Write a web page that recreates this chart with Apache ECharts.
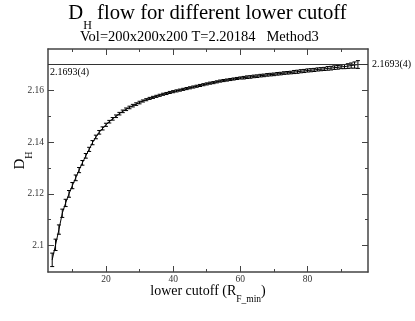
<!DOCTYPE html>
<html><head><meta charset="utf-8">
<script src="https://cdn.jsdelivr.net/npm/echarts@6/dist/echarts.min.js"></script>
<style>html,body{margin:0;padding:0;background:#fff}#c{width:415px;height:321px}</style>
</head><body><div id="c"></div>
<script>
// ---- data ----
const cutoff = [4,5,6,7,8,9,10,11,12,13,14,15,16,17,18,19,20,21,22,23,24,25,26,27,28,29,30,31,32,33,34,35,36,37,38,39,40,41,42,43,44,45,46,47,48,49,50,51,52,53,54,55,56,57,58,59,60,61,62,63,64,65,66,67,68,69,70,71,72,73,74,75,76,77,78,79,80,81,82,83,84,85,86,87,88,89,90,91,92,93,94,95];
const dH = [2.0945,2.1003,2.1062,2.1125,2.1165,2.1200,2.1232,2.1262,2.1292,2.1320,2.1347,2.1372,2.1398,2.1420,2.1438,2.1453,2.1467,2.1479,2.1490,2.1500,2.1510,2.1519,2.1527,2.1534,2.1541,2.1547,2.1553,2.1559,2.1564,2.1569,2.1573,2.1577,2.1581,2.1585,2.1588,2.1592,2.1595,2.1598,2.1601,2.1604,2.1607,2.1610,2.1613,2.1616,2.1619,2.1622,2.1625,2.1628,2.1630,2.1633,2.1636,2.1638,2.1640,2.1642,2.1644,2.1646,2.1648,2.1649,2.1651,2.1652,2.1654,2.1655,2.1657,2.1658,2.1660,2.1661,2.1662,2.1664,2.1665,2.1667,2.1668,2.1669,2.1671,2.1672,2.1674,2.1675,2.1677,2.1678,2.1679,2.1681,2.1682,2.1683,2.1685,2.1686,2.1688,2.1689,2.1691,2.1692,2.1694,2.1696,2.1698,2.1700];
const dHerr = [0.0026,0.0022,0.0018,0.0016,0.0014,0.0013,0.0012,0.0011,0.0010,0.0009,0.0009,0.0008,0.0008,0.0007,0.0007,0.0006,0.0006,0.0005,0.0005,0.0005,0.0005,0.0005,0.0005,0.0005,0.0005,0.0005,0.0005,0.0004,0.0004,0.0004,0.0004,0.0004,0.0004,0.0004,0.0004,0.0004,0.0004,0.0004,0.0004,0.0004,0.0004,0.0004,0.0004,0.0004,0.0004,0.0004,0.0004,0.0004,0.0004,0.0004,0.0004,0.0004,0.0004,0.0004,0.0004,0.0004,0.0004,0.0005,0.0005,0.0005,0.0005,0.0005,0.0005,0.0005,0.0005,0.0005,0.0005,0.0005,0.0005,0.0005,0.0005,0.0005,0.0006,0.0006,0.0006,0.0006,0.0006,0.0006,0.0006,0.0006,0.0006,0.0006,0.0007,0.0007,0.0007,0.0007,0.0007,0.0008,0.0009,0.0010,0.0012,0.0015];
const fitValue = 2.1693;
const fitLabel = '2.1693(4)';
const xMajor = [20,40,60,80];
const xMinor = [10,30,50,70,90];
const yMajor = [2.1,2.12,2.14,2.16];
const yMinor = [2.11,2.13,2.15,2.17];
const xRange = [2.75, 98];
const yRange = [2.0898, 2.176];

// ---- chart ----
const F = "'Liberation Serif','Times New Roman',serif";
const AX = '#444';
const chart = echarts.init(document.getElementById('c'), null, {renderer:'canvas'});
const pts = cutoff.map((x,i)=>[x, dH[i], dHerr[i]]);
const axisLine = {show:true, lineStyle:{color:AX, width:1.5}};
function xAx(pos, vals, len, showLine, labels){
  return {type:'value', position:pos, min:xRange[0], max:xRange[1], gridIndex:0,
    axisLine: showLine?axisLine:{show:false},
    axisTick:{show:true, inside:true, length:len, customValues:vals, lineStyle:{color:AX,width:1}},
    axisLabel: labels?{show:true, customValues:vals, fontFamily:F, fontSize:9.5, color:'#333', margin:2}:{show:false},
    splitLine:{show:false}};
}
function yAx(pos, vals, len, showLine, labels){
  return {type:'value', position:pos, min:yRange[0], max:yRange[1], gridIndex:0,
    axisLine: showLine?axisLine:{show:false},
    axisTick:{show:true, inside:true, length:len, customValues:vals, lineStyle:{color:AX,width:1}},
    axisLabel: labels?{show:true, customValues:vals, fontFamily:F, fontSize:9.5, color:'#333', margin:4,
      formatter:v=>String(+v.toFixed(2))}:{show:false},
    splitLine:{show:false}};
}
const xa0 = xAx('bottom', xMajor, 6, true, true);
xa0.name = '{m|lower cutoff (R}{s|F_min}{m|)}';
xa0.nameLocation = 'middle';
xa0.nameGap = 12;
xa0.nameMoveOverlap = false;
xa0.nameTextStyle = {rich:{m:{fontFamily:F,fontSize:14,color:'#000',verticalAlign:'top',lineHeight:15},
  s:{fontFamily:F,fontSize:9.5,color:'#000',verticalAlign:'bottom',lineHeight:20}}};
const ya0 = yAx('left', yMajor, 6, true, true);
ya0.name = '{m|D}{s|H}';
ya0.nameLocation = 'middle';
ya0.nameGap = 14;
ya0.nameMoveOverlap = false;
ya0.nameRotate = 90;
ya0.nameTextStyle = {rich:{m:{fontFamily:F,fontSize:15,color:'#000',verticalAlign:'top',lineHeight:16},
  s:{fontFamily:F,fontSize:10,color:'#000',verticalAlign:'bottom',lineHeight:21}}};

chart.setOption({
  animation:false,
  backgroundColor:'#fff',
  title:[{
    text:'{m|D}{s|H}{m| flow for different lower cutoff}',
    left:'center', top:3, padding:0,
    textStyle:{rich:{m:{fontFamily:F,fontSize:20.7,fontWeight:'normal',color:'#000',verticalAlign:'top',lineHeight:22},
      s:{fontFamily:F,fontSize:12,fontWeight:'normal',color:'#000',verticalAlign:'bottom',lineHeight:29}}}
  },{
    text:'Vol=200x200x200 T=2.20184   Method3',
    left:80, top:30, padding:0,
    textStyle:{fontFamily:F,fontSize:14.5,fontWeight:'normal',color:'#000'}
  }],
  grid:{left:48, right:47, top:49, bottom:49, containLabel:false, outerBoundsMode:'none'},
  xAxis:[xa0, xAx('bottom', xMinor, 3, false, false), xAx('top', xMajor, 6, true, false), xAx('top', xMinor, 3, false, false)],
  yAxis:[ya0, yAx('left', yMinor, 3, false, false), yAx('right', yMajor, 6, true, false), yAx('right', yMinor, 3, false, false)],
  series:[{
    type:'line', xAxisIndex:0, yAxisIndex:0,
    data: pts.map(p=>[p[0],p[1]]),
    showSymbol:false, lineStyle:{color:'#000', width:1},
    markLine:{silent:true, symbol:'none',
      lineStyle:{color:'#333', width:1, type:'solid'},
      data:[
        {yAxis:fitValue, label:{show:true, position:'insideStartBottom', formatter:fitLabel, fontFamily:F, fontSize:10, color:'#000', distance:[2,3]}},
        {yAxis:fitValue, label:{show:true, position:'end', formatter:fitLabel, fontFamily:F, fontSize:10, color:'#000', distance:4}}
      ]}
  },{
    type:'custom', xAxisIndex:0, yAxisIndex:0,
    data: pts,
    renderItem:function(params, api){
      const x=api.value(0), y=api.value(1), e=api.value(2);
      const t=api.coord([x,y+e]), b=api.coord([x,y-e]);
      const st={stroke:'#000', lineWidth:1};
      const w=2;
      return {type:'group', children:[
        {type:'line', shape:{x1:t[0],y1:t[1],x2:b[0],y2:b[1]}, style:st},
        {type:'line', shape:{x1:t[0]-w,y1:t[1],x2:t[0]+w,y2:t[1]}, style:st},
        {type:'line', shape:{x1:b[0]-w,y1:b[1],x2:b[0]+w,y2:b[1]}, style:st}
      ]};
    }
  }]
});
</script></body></html>
